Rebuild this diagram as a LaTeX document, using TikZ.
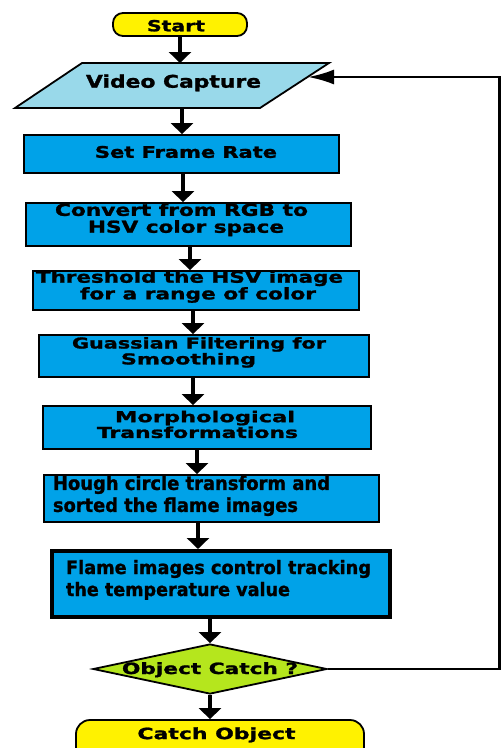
\documentclass[tikz,border=0pt]{standalone}
\usepackage{fontspec}
\setmainfont{DejaVu Sans}[BoldFeatures={FakeBold=1.3}]
\usepackage{graphicx}
\usetikzlibrary{arrows.meta,shapes.geometric,backgrounds}
\definecolor{pblue}{HTML}{00A2E8}
\definecolor{pyellow}{HTML}{FFF200}
\definecolor{plime}{HTML}{B5E61D}
\definecolor{pturq}{HTML}{99D9EA}
\newcommand\Ln[3]{\hspace*{#1pt}\resizebox{#2pt}{\height}{#3}\hspace*{-#1pt}}
\newcommand\Blk[5]{\raisebox{#1pt}[\height][\depth]{\fontsize{#2}{#3}\selectfont\bfseries\begin{tabular}{@{}#4@{}}#5\end{tabular}}}
\tikzset{
  pbox/.style={rectangle, draw, line width=1.8pt, fill=pblue, inner sep=0pt},
  term/.style={rectangle, rounded corners=10pt, draw, line width=1.8pt, fill=pyellow, inner sep=0pt},
  arr/.style={line width=4pt, -{Triangle[width=22pt,length=11pt]}},
  fb/.style={line width=2.4pt, -{Latex[length=26pt,width=15pt]}},
}
\begin{document}
\begin{tikzpicture}[x=1pt,y=-1pt]
\useasboundingbox (0,0) rectangle (501,748);
\clip (0,0) rectangle (501,748);
% x positions of the arrows
\coordinate (a1) at (180,0);
\coordinate (a2) at (182,0);
\coordinate (a3) at (183,0);
\coordinate (a4) at (190,0);
\coordinate (a5) at (193,0);
\coordinate (a6) at (193,0);
\coordinate (a7) at (197,0);
\coordinate (a8) at (198,0);
\coordinate (a9) at (210,0);
\coordinate (fbr) at (499.3,0);
\coordinate (fbin) at (308,77);

\node[term, minimum width=134pt, minimum height=23pt] (start) at (180,24.5)
  {\Blk{-3.2}{15.3}{18}{c}{\Ln{-4}{58}{Start}}};

\node[rectangle, inner sep=0pt, outer sep=0pt, minimum width=314pt, minimum height=45pt] (vc) at (172,85.5)
  {\Blk{2}{17.5}{21}{c}{\Ln{1.5}{175}{Video Capture}}};
\begin{scope}[on background layer]
\draw[line width=1.8pt, fill=pturq] ([xshift=67pt]vc.north west) -- (vc.north east)
  -- ([xshift=-69pt]vc.south east) -- (vc.south west) -- cycle;
\end{scope}

\node[pbox, minimum width=315pt, minimum height=38pt] (sfr) at (181.5,154)
  {\Blk{0}{16}{19}{c}{\Ln{4.5}{182}{Set Frame Rate}}};

\node[pbox, minimum width=325pt, minimum height=43pt] (cvt) at (188.5,224.5)
  {\Blk{4.3}{16.5}{14.5}{c}{\Ln{-7}{253}{Convert from RGB to}\\\Ln{-2.5}{196}{HSV color space}}};

\node[pbox, minimum width=326pt, minimum height=39pt] (thr) at (196,290.5)
  {\Blk{3.3}{16}{15}{c}{\Ln{-6.5}{307}{Threshold the HSV image}\\\Ln{2}{236}{for a range of color}}};

\node[pbox, minimum width=330pt, minimum height=42pt] (gau) at (204,356)
  {\Blk{3}{15}{15}{c}{\Ln{-5}{254}{Guassian Filtering for}\\\Ln{-15.5}{135}{Smoothing}}};

\node[pbox, minimum width=328pt, minimum height=43pt] (mor) at (207,427.5)
  {\Blk{1}{15}{14.5}{c}{\Ln{-2}{180}{Morphological}\\\Ln{-9.5}{201}{Transformations}}};

\node[pbox, minimum width=335pt, minimum height=47pt] (hou) at (211.5,498.5)
  {\Blk{2}{19}{22}{l}{\Ln{-20}{277}{Hough circle transform and}\\\Ln{-20}{245}{sorted the flame images}}};

\node[pbox, line width=4pt, minimum width=338pt, minimum height=66pt] (fla) at (221,584)
  {\Blk{3.4}{18.5}{22}{l}{\Ln{-2.5}{305}{Flame images control tracking}\\\Ln{-2.5}{224}{the temperature value}}};

\node[diamond, draw, line width=1.8pt, fill=plime, inner sep=0pt, minimum width=234pt, minimum height=50pt] (dec) at (210,669)
  {\smash{\makebox[0pt]{\raisebox{-5pt}{\fontsize{15.5}{18}\selectfont\bfseries\Ln{0}{176}{Object Catch ?}}}}};

\node[term, rounded corners=14pt, minimum width=288pt, minimum height=42pt] (cat) at (220,741)
  {\Blk{5.5}{15.5}{18}{c}{\Ln{-3.5}{158}{Catch Object}}};

% connectors
\draw[arr] (start.south -| a1) -- (vc.north -| a1);
\draw[arr] (vc.south -| a2) -- (sfr.north -| a2);
\draw[arr] (sfr.south -| a3) -- (cvt.north -| a3);
\draw[arr] (cvt.south -| a4) -- (thr.north -| a4);
\draw[arr] (thr.south -| a5) -- (gau.north -| a5);
\draw[arr] (gau.south -| a6) -- (mor.north -| a6);
\draw[arr] (mor.south -| a7) -- (hou.north -| a7);
\draw[arr] (hou.south -| a8) -- (fla.north -| a8);
\draw[arr] (fla.south -| a9) -- (dec.north);
\draw[arr] (dec.south) -- (cat.north -| a9);
\draw[fb] (dec.east) -- (fbr |- dec.east) -- (fbr |- fbin) -- (fbin);
\end{tikzpicture}
\end{document}
